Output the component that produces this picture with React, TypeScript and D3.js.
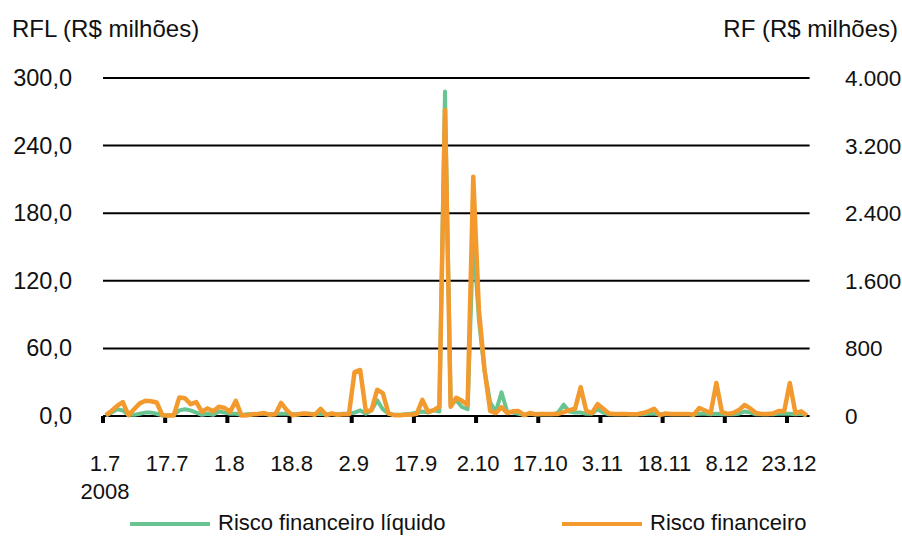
import React from "react";
import * as d3 from "d3";

// Daily series, 1 Jul 2008 – end of Dec 2008 (business days)
// RFL: risco financeiro líquido, R$ milhões (left axis)
const rfl: number[] = [
  0.5, 3, 6, 5, 1, 1, 2, 3, 3, 2,
  0.5, 0.5, 1, 5, 6, 5, 3, 1, 2, 1,
  4, 3, 2, 2, 1, 1.5, 1.5, 2, 2, 1.5,
  2, 2, 2, 1.5, 1.5, 2, 2, 1.5, 2, 1.5,
  1.5, 1.5, 2, 2, 3, 5, 2, 5, 14, 6,
  2, 1, 1, 1.5, 2, 3, 4, 3, 5, 4,
  288, 10, 14, 8, 6, 160, 85, 40, 12, 4,
  21, 4, 3, 2, 1, 2, 1.5, 1.5, 1.5, 1.5,
  3, 10, 4, 3, 3, 2, 2, 6, 3, 1.5,
  1.5, 1.5, 1.5, 1.5, 1.5, 1.5, 2, 2, 1.5, 1.5,
  1.5, 1.5, 1.5, 1.5, 1.5, 2, 2, 1.5, 2, 1.5,
  1.5, 1.5, 2, 4, 3, 1.5, 1.5, 1.5, 1.5, 2,
  2, 2, 1.5, 2, 0.5,
];

// RF: risco financeiro, R$ milhões (right axis)
const rf: number[] = [
  10, 60, 120, 165, 10, 80, 150, 180, 175, 160,
  10, 5, 5, 220, 210, 140, 165, 50, 90, 55,
  110, 95, 50, 180, 5, 10, 20, 25, 35, 15,
  20, 155, 70, 10, 20, 30, 25, 15, 85, 10,
  30, 15, 20, 20, 520, 545, 55, 70, 310, 270,
  30, 10, 10, 15, 15, 25, 190, 50, 70, 110,
  3620, 110, 215, 180, 130, 2830, 1255, 545, 60, 35,
  105, 35, 55, 60, 10, 35, 20, 25, 25, 25,
  25, 45, 70, 85, 340, 60, 35, 140, 85, 30,
  25, 25, 25, 20, 20, 35, 55, 85, 10, 30,
  25, 25, 25, 25, 15, 95, 65, 35, 390, 45,
  25, 35, 70, 130, 90, 35, 25, 25, 30, 60,
  55, 390, 35, 55, 5,
];

const tickLabels: string[] = [
  "1.7", "17.7", "1.8", "18.8", "2.9", "17.9",
  "2.10", "17.10", "3.11", "18.11", "8.12", "23.12",
];
const tickEvery = 11;

const leftTicks: number[] = [0, 60, 120, 180, 240, 300];
const rightTicks: number[] = [0, 800, 1600, 2400, 3200, 4000];

const seriesNames: string[] = ["Risco financeiro líquido", "Risco financeiro"];

const W = 902;
const H = 536;
const left = 103;
const right = 809.6;
const top = 78;
const bottom = 416;

const GREEN = "#68c490";
const ORANGE = "#f29a2e";
const FONT = "'Liberation Sans', Arial, sans-serif";

const fmtLeft = (v: number) => d3.format(".1f")(v).replace(".", ",");
const fmtRight = (v: number) => d3.format(",")(v).replace(/,/g, ".");

export default function App() {
  const idx = d3.range(rf.length);
  const x = d3.scaleBand<number>().domain(idx).range([left, right]).padding(0);
  const cx = (i: number) => (x(i) as number) + x.bandwidth() / 2;
  const yL = d3.scaleLinear().domain([0, 300]).range([bottom, top]);
  const yR = d3.scaleLinear().domain([0, 4000]).range([bottom, top]);

  const lineL = d3.line<number>().x((_, i) => cx(i)).y((d) => yL(d));
  const lineR = d3.line<number>().x((_, i) => cx(i)).y((d) => yR(d));

  const tickIdx = tickLabels.map((_, k) => k * tickEvery);

  return (
    <svg
      width={W}
      height={H}
      style={{ position: "absolute", left: 0, top: 0, background: "#fff" }}
      fontFamily={FONT}
    >
      <rect width={W} height={H} fill="#fff" />

      {/* axis titles */}
      <text x={12} y={37} fontSize={24} fill="#111">RFL (R$ milhões)</text>
      <text x={898} y={37} fontSize={24} fill="#111" textAnchor="end">RF (R$ milhões)</text>

      {/* horizontal gridlines */}
      {leftTicks.map((t) => (
        <line key={t} x1={left} x2={right} y1={yL(t)} y2={yL(t)} stroke="#000" strokeWidth={2} />
      ))}

      {/* left axis labels */}
      {leftTicks.map((t) => (
        <text key={t} x={72} y={yL(t) + 8} fontSize={23.5} fill="#111" textAnchor="end">
          {fmtLeft(t)}
        </text>
      ))}

      {/* right axis labels */}
      {rightTicks.map((t) => (
        <text key={t} x={845} y={yR(t) + 8} fontSize={22.5} fill="#111">
          {fmtRight(t)}
        </text>
      ))}

      {/* category ticks and labels */}
      {tickIdx.map((ti, k) => (
        <g key={ti}>
          <rect x={(x(ti) as number) - 2} y={bottom} width={4} height={7} fill="#000" />
          <text x={(x(ti) as number) + 2} y={471} fontSize={22} fill="#111" textAnchor="middle">
            {tickLabels[k]}
          </text>
        </g>
      ))}
      <text x={(x(0) as number) + 2} y={499} fontSize={22} fill="#111" textAnchor="middle">2008</text>

      {/* series */}
      <path d={lineL(rfl) ?? ""} fill="none" stroke={GREEN} strokeWidth={4} strokeLinejoin="round" />
      <path d={lineR(rf) ?? ""} fill="none" stroke={ORANGE} strokeWidth={4.5} strokeLinejoin="round" />

      {/* legend */}
      <line x1={130} x2={210} y1={524} y2={524} stroke={GREEN} strokeWidth={4} />
      <text x={218} y={530} fontSize={22} fill="#111">{seriesNames[0]}</text>
      <line x1={562} x2={642} y1={524} y2={524} stroke={ORANGE} strokeWidth={4} />
      <text x={650} y={530} fontSize={22} fill="#111">{seriesNames[1]}</text>
    </svg>
  );
}
